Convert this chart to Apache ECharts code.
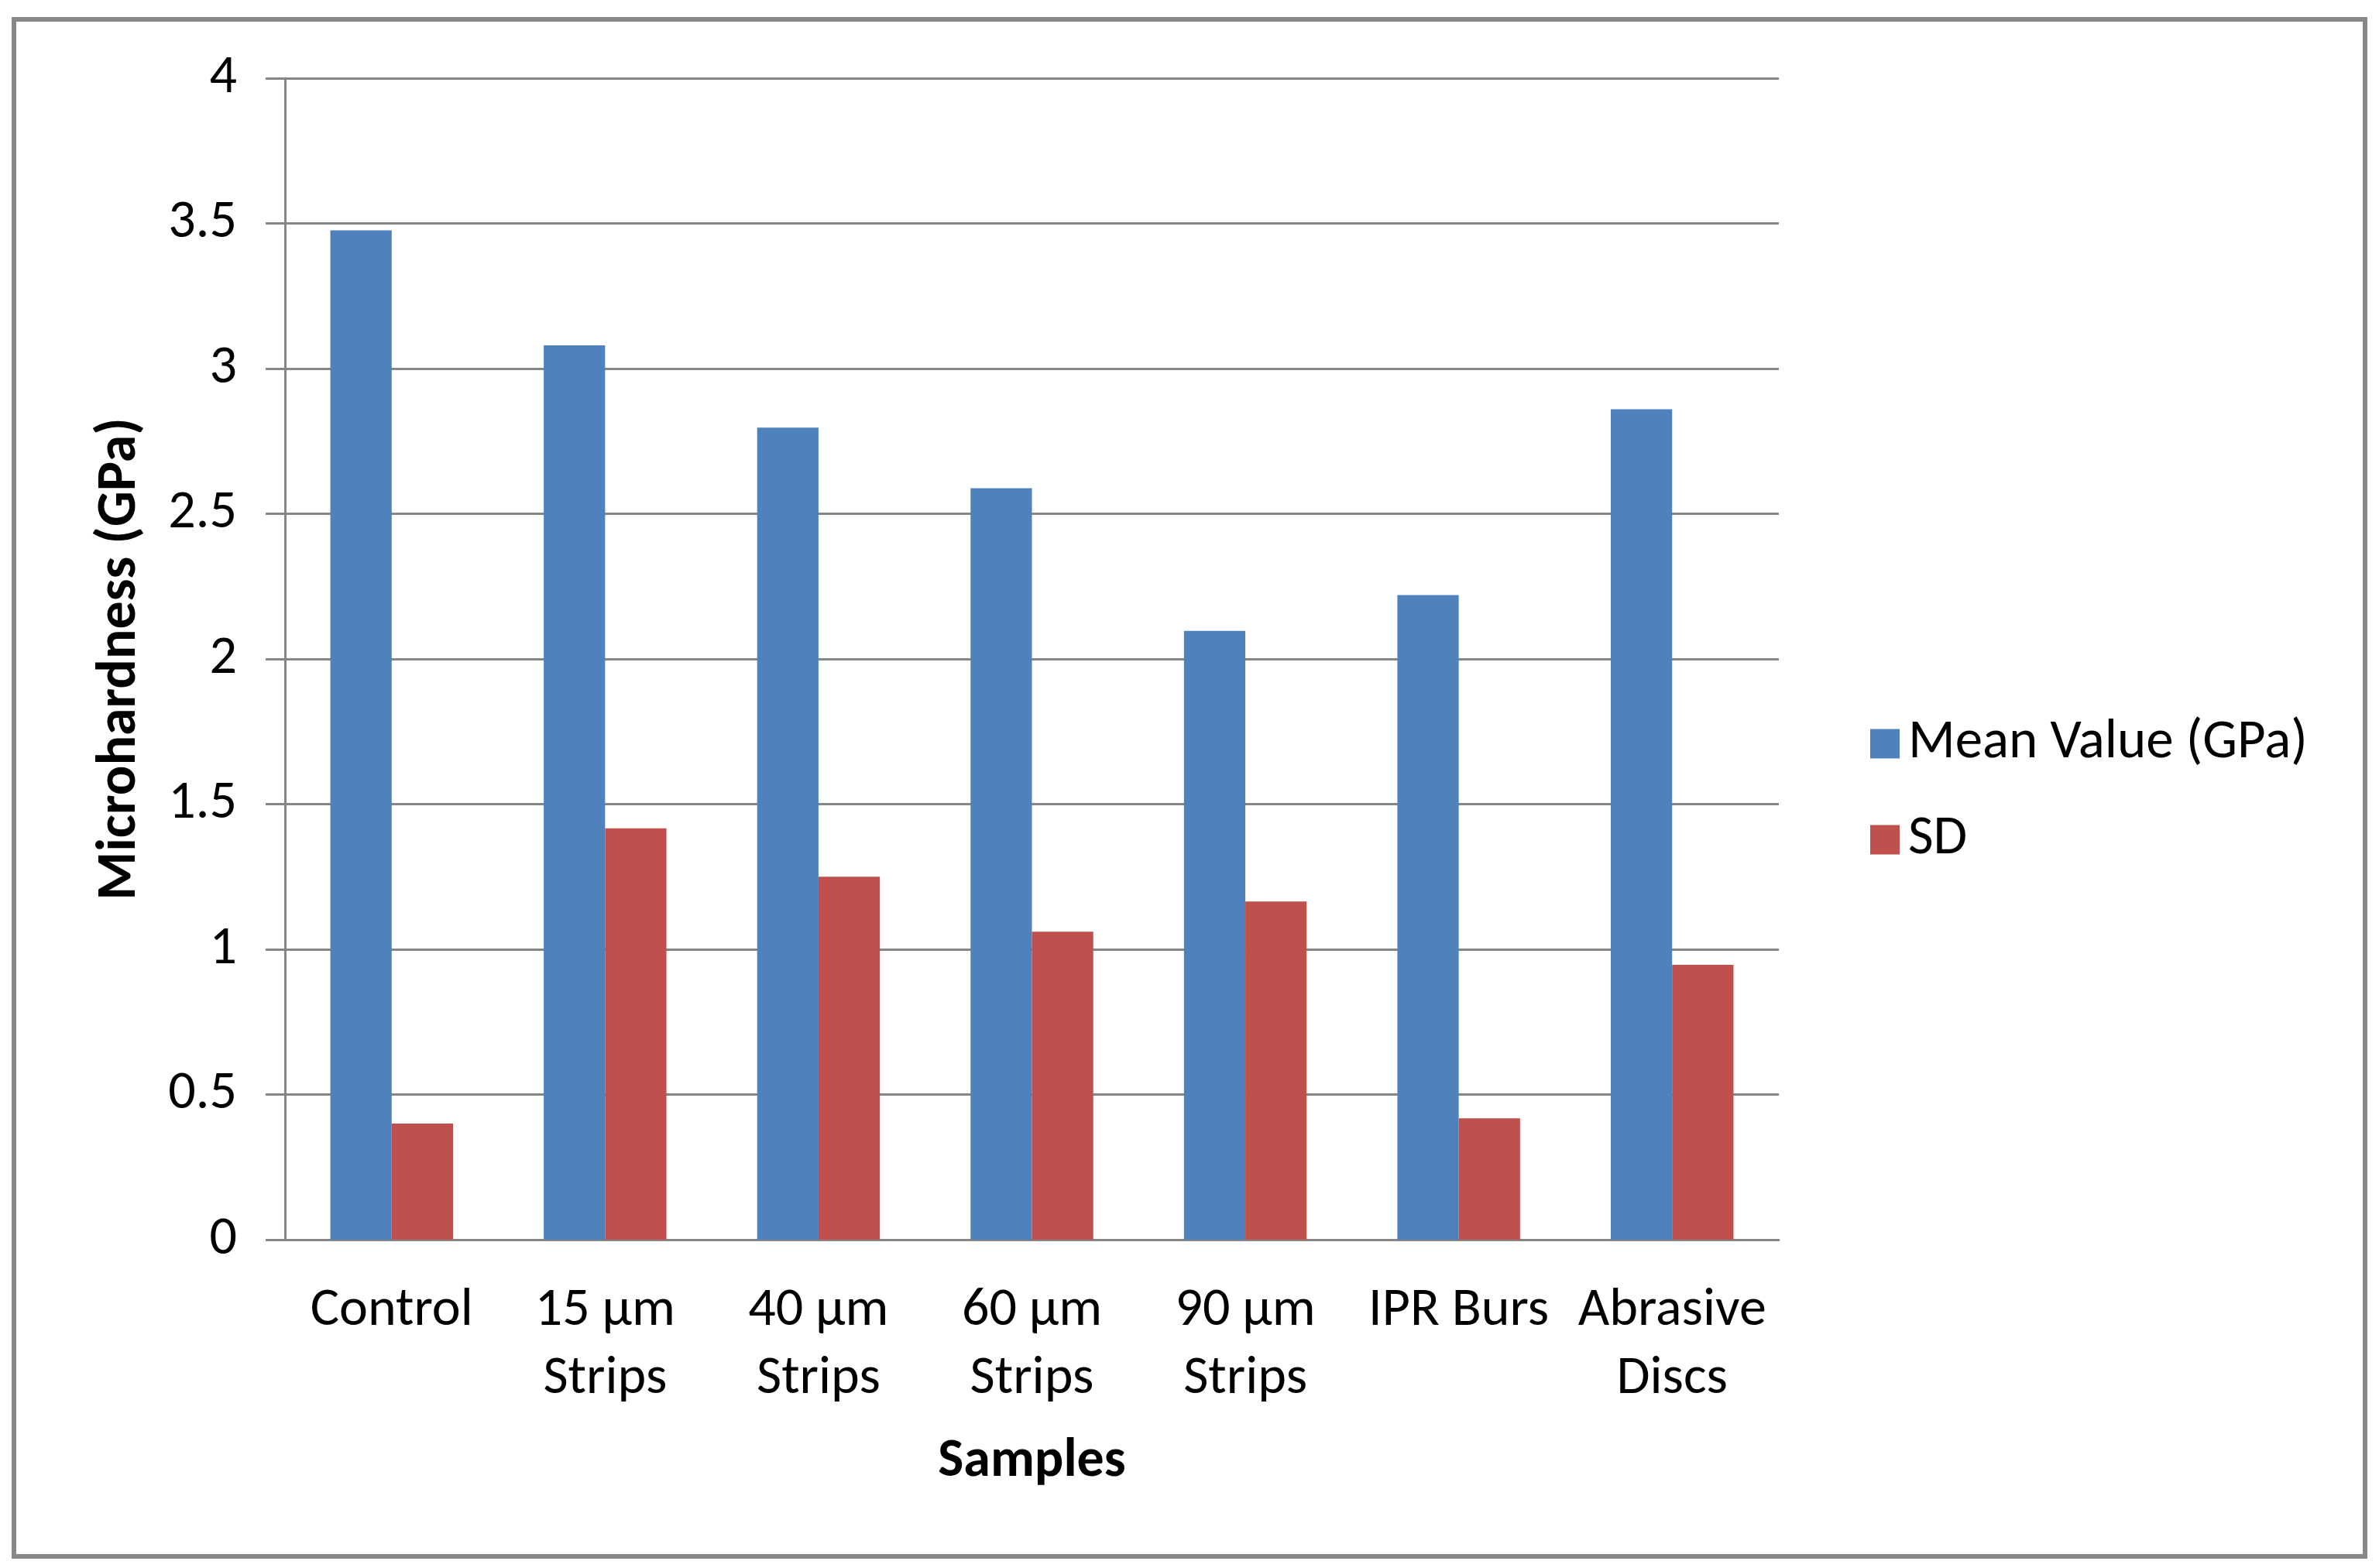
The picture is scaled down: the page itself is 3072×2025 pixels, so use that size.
<!DOCTYPE html>
<html>
<head>
<meta charset="utf-8">
<script src="https://cdn.jsdelivr.net/npm/echarts@6/dist/echarts.min.js"></script>
<style>
html,body{margin:0;padding:0;background:#fff;}
#chart{width:3072px;height:2025px;}
</style>
</head>
<body>
<div id="chart"></div>
<script>
const categories = ["Control", "15 µm\nStrips", "40 µm\nStrips", "60 µm\nStrips", "90 µm\nStrips", "IPR Burs", "Abrasive\nDiscs"];
const meanValues = [3.476, 3.08, 2.797, 2.588, 2.097, 2.22, 2.86];
const sdValues = [0.40, 1.417, 1.25, 1.061, 1.165, 0.418, 0.947];
const yTicks = [0, 0.5, 1, 1.5, 2, 2.5, 3, 3.5, 4];

const FONT = "'Carlito','Liberation Sans Narrow','Liberation Sans',sans-serif";
const AXIS_COLOR = '#868686';

const chart = echarts.init(document.getElementById('chart'), null, {renderer: 'canvas'});
chart.setOption({
  backgroundColor: '#ffffff',
  animation: false,
  textStyle: {fontFamily: FONT},
  graphic: [{
    type: 'rect',
    shape: {x: 18, y: 25, width: 3036, height: 1985},
    style: {fill: 'none', stroke: '#888888', lineWidth: 6},
    silent: true
  }],
  legend: {
    orient: 'vertical',
    left: 2410,
    top: 920,
    itemWidth: 38,
    itemHeight: 38,
    itemGap: 53,
    icon: 'rect',
    textStyle: {fontFamily: FONT, fontSize: 71, color: '#000', lineHeight: 70, padding: [0,0,0,6]},
    data: ['Mean Value (GPa)', 'SD']
  },
  grid: {left: 368, right: 775, top: 101, bottom: 424, containLabel: false},
  xAxis: {
    type: 'category',
    data: categories,
    name: 'Samples',
    nameLocation: 'middle',
    nameGap: 252,
    nameTextStyle: {fontFamily: FONT, fontSize: 70, fontWeight: 'bold', color: '#000'},
    axisLine: {show: true, lineStyle: {color: AXIS_COLOR, width: 3}},
    axisTick: {show: false},
    axisLabel: {fontFamily: FONT, fontSize: 70, color: '#000', lineHeight: 88, margin: 48, interval: 0}
  },
  yAxis: {
    type: 'value',
    min: 0,
    max: 4,
    interval: 0.5,
    name: 'Microhardness (GPa)',
    nameLocation: 'middle',
    nameGap: 176,
    nameRotate: 90,
    nameTextStyle: {fontFamily: FONT, fontSize: 72, fontWeight: 'bold', color: '#000'},
    axisLine: {show: true, lineStyle: {color: AXIS_COLOR, width: 3}},
    axisTick: {show: true, length: 25, lineStyle: {color: AXIS_COLOR, width: 3}},
    splitLine: {show: true, lineStyle: {color: AXIS_COLOR, width: 3}},
    axisLabel: {fontFamily: FONT, fontSize: 70, color: '#000', margin: 62,
      formatter: function (v) { return yTicks.indexOf(v) >= 0 ? String(v) : ''; }}
  },
  series: [
    {
      name: 'Mean Value (GPa)',
      type: 'bar',
      data: meanValues,
      barGap: '0%',
      barCategoryGap: '42.5%',
      itemStyle: {color: '#4F81BD'}
    },
    {
      name: 'SD',
      type: 'bar',
      data: sdValues,
      barGap: '0%',
      barCategoryGap: '42.5%',
      itemStyle: {color: '#C0504D'}
    }
  ]
});
</script>
</body>
</html>
